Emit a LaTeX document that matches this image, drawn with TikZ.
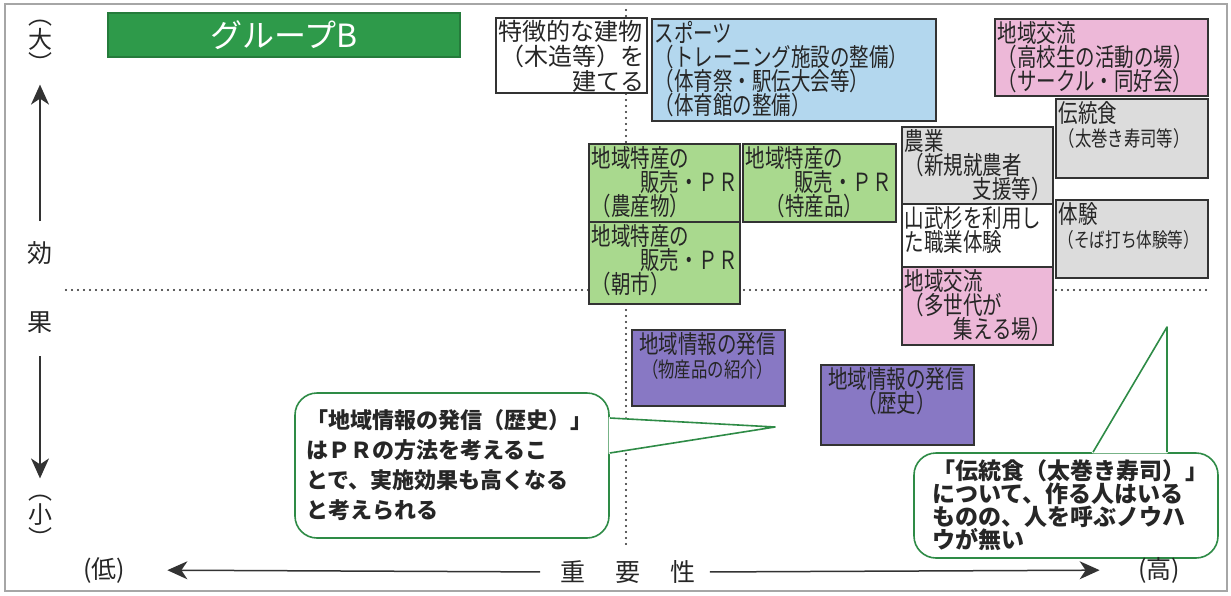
\documentclass[tikz,border=0pt]{standalone}
\usepackage{fontspec}
\setmainfont{Noto Sans CJK JP}
\newfontfamily\boxfont{Noto Sans CJK JP}[FakeStretch=0.78]
\usetikzlibrary{arrows.meta,fit}
\definecolor{titlegreen}{HTML}{2E9A4A}
\definecolor{sportsblue}{HTML}{B3D7EE}
\definecolor{koryupink}{HTML}{EDB8D8}
\definecolor{boxgrey}{HTML}{DCDCDC}
\definecolor{tokusangreen}{HTML}{A9D98E}
\definecolor{johopurple}{HTML}{8878C4}
\definecolor{memogreen}{HTML}{2E8B46}
\newcommand\memotight{\lineskiplimit=-5pt\relax}

\begin{document}
\begin{tikzpicture}[x=.5pt,y=-.5pt,
    box/.style={draw=black!80,line width=.7pt,inner sep=0pt},
    boxtext/.style={anchor=north west,inner sep=1.5pt,text width=73pt,align=left,
      text=black!85,font=\boxfont\fontsize{12.5}{12}\selectfont\memotight},
    axislabel/.style={font=\fontsize{12.5}{13}\selectfont,text=black!85,inner sep=2pt},
    axisarrow/.style={line width=.75pt,draw=black!80,-{Stealth[length=10pt,width=9pt,inset=3pt]}},
    dotline/.style={line width=1.2pt,line cap=round,dash pattern=on 0pt off 3pt,black!85},
    memo/.style={draw=memogreen,line width=.8pt,fill=white,rounded corners=11pt,align=left,
      text=black!85,font=\bfseries\fontsize{11}{15}\selectfont},
    memoline/.style={draw=memogreen,line width=.8pt,line join=round}]
  \useasboundingbox (0,0) rectangle (1231,595);
  \draw[black!35,line width=.6pt] (5,4) rectangle (1227,591);

  \draw[dotline] (626,10) -- (626,548);
  \draw[dotline] (66,290) -- (1208,290);

  \node[box,fill=titlegreen,draw=titlegreen!80!black,fit={(108,13) (460,57)},
    label={[text=white,font=\fontsize{16}{16}\selectfont]center:グループB}] (title) {};

  \node[box,fill=white,fit={(496,18) (647,93)}] (tatemono) {};
  \node[boxtext,font=\fontsize{12}{12.5}\selectfont] (tatemono-t) at (tatemono.north west)
    {特徴的な建物\\\hspace*{\fill}（木造等）を\\\hspace*{\fill}建てる};

  \node[box,fill=sportsblue,fit={(652,19) (936,121)}] (sports) {};
  \node[boxtext,text width=138pt] (sports-t) at (sports.north west)
    {スポーツ\\（トレーニング施設の整備）\\（体育祭・駅伝大会等）\\（体育館の整備）};

  \node[box,fill=koryupink,fit={(995,19) (1208,96)}] (koryu1) {};
  \node[boxtext,text width=103pt] (koryu1-t) at (koryu1.north west)
    {地域交流\\（高校生の活動の場）\\（サークル・同好会）};

  \node[box,fill=boxgrey,fit={(1056,99) (1208,178)}] (dentou) {};
  \node[boxtext] (dentou-t) at (dentou.north west)
    {伝統食\\{\fontsize{10.5}{12}\selectfont（太巻き寿司等）}};

  \node[box,fill=boxgrey,fit={(902,127) (1053,204)}] (nogyo) {};
  \node[boxtext] (nogyo-t) at (nogyo.north west)
    {農業\\（新規就農者\\\hspace*{\fill}支援等）};

  \node[box,fill=white,fit={(902,204) (1053,267)}] (sanbu) {};
  \node[boxtext] (sanbu-t) at (sanbu.north west)
    {山武杉を利用し\\た職業体験};

  \node[box,fill=koryupink,fit={(902,267) (1053,345)}] (koryu2) {};
  \node[boxtext] (koryu2-t) at (koryu2.north west)
    {地域交流\\（多世代が\\\hspace*{\fill}集える場）};

  \node[box,fill=boxgrey,fit={(1056,200) (1208,278)}] (taiken) {};
  \node[boxtext] (taiken-t) at (taiken.north west)
    {体験\\{\fontsize{10}{12}\selectfont（そば打ち体験等）}};

  \node[box,fill=tokusangreen,fit={(589,144) (740,222)}] (tokusan1) {};
  \node[boxtext] (tokusan1-t) at (tokusan1.north west)
    {地域特産の\\\hspace*{\fill}販売・ＰＲ\\（農産物）};

  \node[box,fill=tokusangreen,fit={(743,144) (896,222)}] (tokusan2) {};
  \node[boxtext] (tokusan2-t) at (tokusan2.north west)
    {地域特産の\\\hspace*{\fill}販売・ＰＲ\\\hspace*{.8em}（特産品）};

  \node[box,fill=tokusangreen,fit={(589,222) (740,304)}] (tokusan3) {};
  \node[boxtext] (tokusan3-t) at (tokusan3.north west)
    {地域特産の\\\hspace*{\fill}販売・ＰＲ\\（朝市）};

  \node[box,fill=johopurple,fit={(632,330) (785,406)}] (joho1) {};
  \node[boxtext,align=center] (joho1-t) at (joho1.north west)
    {地域情報の発信\\{\fontsize{10.5}{12}\selectfont（物産品の紹介）}};

  \node[box,fill=johopurple,fit={(821,365) (974,445)}] (joho2) {};
  \node[boxtext,align=center] (joho2-t) at (joho2.north west)
    {地域情報の発信\\（歴史）};

  \coordinate (tip1) at (775,427);
  \node[memo,minimum width=157pt,minimum height=72.5pt,text width=146pt] (memo1) at (452,465.5)
    {「地域情報の発信（歴史）」\\はＰＲの方法を考えるこ\\とで、実施効果も高くなる\\と考えられる};
  \fill[white,draw=white,line width=1.2pt,line join=round]
    (memo1.east |- 0,418) -- (tip1) -- (memo1.east |- 0,453) -- cycle;
  \draw[memoline] (memo1.east |- 0,418) -- (tip1) -- (memo1.east |- 0,453);

  \coordinate (tip2) at (1167,327);
  \node[memo,minimum width=152pt,minimum height=52.5pt,text width=134pt,
    font=\bfseries\fontsize{11.5}{11.5}\selectfont\memotight] (memo2) at (1066,505.5)
    {「伝統食（太巻き寿司）」\\について、作る人はいる\\ものの、人を呼ぶノウハ\\ウが無い};
  \fill[white,draw=white,line width=1.2pt,line join=round]
    (1093,0 |- memo2.north) -- (tip2) -- (1167,0 |- memo2.north) -- cycle;
  \draw[memoline] (1093,0 |- memo2.north) -- (tip2) -- (1167,0 |- memo2.north);

  \node[axislabel,align=center,font=\fontsize{12}{12}\selectfont] (dai) at (40,46) {︵\\大\\︶};
  \node[axislabel] (kou) at (40,253) {効};
  \node[axislabel] (ka) at (40,323) {果};
  \node[axislabel,align=center,font=\fontsize{12}{12}\selectfont] (sho) at (40,521) {︵\\小\\︶};
  \node[axislabel] (tei) at (104,570) {(低)};
  \node[axislabel] (juyo) at (628,572) {重\hspace{1.2em}要\hspace{1.2em}性};
  \node[axislabel] (takai) at (1159,570) {(高)};

  \draw[axisarrow,shorten <=8pt,shorten >=4pt] (kou.north) -- (dai.south);
  \draw[axisarrow,shorten <=9pt,shorten >=6pt] (ka.south) -- (sho.north);
  \draw[axisarrow,shorten <=8pt,shorten >=19pt] (juyo.west) -- (tei.east);
  \draw[axisarrow,shorten <=5pt,shorten >=17pt] (juyo.east) -- (takai.west);
\end{tikzpicture}
\end{document}
